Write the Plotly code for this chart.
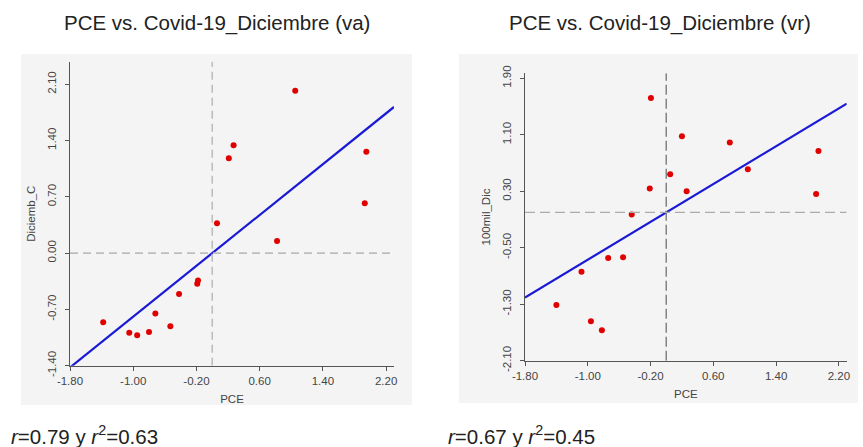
import plotly.graph_objects as go

W, H = 863, 447

# ---------------- data ----------------
pce_va = [-1.38, -1.05, -0.95, -0.80, -0.72, -0.53, -0.42, -0.19, -0.18,
          0.06, 0.21, 0.27, 0.82, 1.05, 1.93, 1.95]
dic_va = [-0.86, -0.99, -1.02, -0.98, -0.75, -0.91, -0.51, -0.38, -0.34,
          0.37, 1.18, 1.34, 0.15, 2.02, 0.62, 1.26]

pce_vr = [-1.40, -1.08, -0.96, -0.82, -0.74, -0.55, -0.44, -0.21, -0.195,
          0.05, 0.20, 0.26, 0.81, 1.04, 1.91, 1.94]
dic_vr = [-1.31, -0.84, -1.54, -1.67, -0.645, -0.635, -0.03, 0.34, 1.62,
          0.54, 1.08, 0.30, 0.99, 0.61, 0.26, 0.87]

r_va, r2_va = 0.79, 0.63
r_vr, r2_vr = 0.67, 0.45

x_ticks = [-1.80, -1.00, -0.20, 0.60, 1.40, 2.20]
y_ticks_va = [-1.40, -0.70, 0.00, 0.70, 1.40, 2.10]
y_ticks_vr = [-2.10, -1.30, -0.50, 0.30, 1.10, 1.90]

x_range = [-1.80, 2.30]
y_range_va = [-1.40, 2.38]
y_range_vr = [-2.10, 1.97]

titles = ["PCE vs. Covid-19_Diciembre (va)", "PCE vs. Covid-19_Diciembre (vr)"]
y_titles = ["Diciemb_C", "100mil_Dic"]
x_title = "PCE"

# ---------------- figure ----------------
RED = "#e00000"
BLUE = "#1a1ad6"
AXC = "#555555"
PANEL = "#f4f4f4"

fig = go.Figure()

def add_panel(xs, ys, r, xa, ya):
    fig.add_trace(go.Scatter(
        x=xs, y=ys, mode="markers", xaxis=xa, yaxis=ya,
        marker=dict(color=RED, size=6, line=dict(width=0)),
        showlegend=False, hoverinfo="x+y"))
    # regression line of standardized variables: y = r * x
    lx = x_range
    fig.add_trace(go.Scatter(
        x=lx, y=[r * v for v in lx], mode="lines", xaxis=xa, yaxis=ya,
        line=dict(color=BLUE, width=2.2), showlegend=False, hoverinfo="skip"))

add_panel(pce_va, dic_va, r_va, "x", "y")
add_panel(pce_vr, dic_vr, r_vr, "x2", "y2")

def px(v):
    return v / W

def py(v):
    return 1 - v / H

axis_font = dict(family="Liberation Sans, Arial, sans-serif", size=11.5, color="#444444")

common_x = dict(range=x_range, tickvals=x_ticks, ticktext=[f"{v:.2f}" for v in x_ticks],
                showgrid=False, zeroline=False, showline=True, linecolor=AXC,
                linewidth=1.2, ticks="outside", ticklen=4, tickcolor=AXC,
                tickfont=axis_font, fixedrange=True, automargin=False)
common_y = dict(showgrid=False, zeroline=False, showline=True, linecolor=AXC,
                linewidth=1.2, ticks="outside", ticklen=4, tickcolor=AXC,
                tickfont=axis_font, tickangle=-90, fixedrange=True, automargin=False,
                ticklabelstandoff=4)

fig.update_layout(
    width=W, height=H,
    margin=dict(l=0, r=0, t=0, b=0, pad=0, autoexpand=False),
    paper_bgcolor="white", plot_bgcolor=PANEL,
    xaxis=dict(domain=[px(70), px(394)], anchor="y",
               title=dict(text=x_title, font=axis_font, standoff=9), **common_x),
    yaxis=dict(domain=[py(365.7), py(61.7)], anchor="x", range=y_range_va,
               tickvals=y_ticks_va, ticktext=[f"{v:.2f}" for v in y_ticks_va],
               title=dict(text=y_titles[0], font=axis_font, standoff=8), **common_y),
    xaxis2=dict(domain=[px(525), px(846.7)], anchor="y2",
                title=dict(text=x_title, font=axis_font, standoff=9), **common_x),
    yaxis2=dict(domain=[py(360.7), py(73.3)], anchor="x2", range=y_range_vr,
                tickvals=y_ticks_vr, ticktext=[f"{v:.2f}" for v in y_ticks_vr],
                title=dict(text=y_titles[1], font=axis_font, standoff=8), **common_y),
)

# grey panel backgrounds
fig.add_shape(type="rect", xref="paper", yref="paper", layer="below",
              x0=px(21), x1=px(412), y0=py(405), y1=py(54),
              fillcolor=PANEL, line=dict(width=0))
fig.add_shape(type="rect", xref="paper", yref="paper", layer="below",
              x0=px(459), x1=px(858), y0=py(403), y1=py(54),
              fillcolor=PANEL, line=dict(width=0))

# mean reference lines (dashed)
fig.add_shape(type="line", xref="x", yref="y", x0=0, x1=0, y0=y_range_va[0], y1=y_range_va[1],
              line=dict(color="#bdbdbd", width=1.6, dash="8px,5px"))
fig.add_shape(type="line", xref="x", yref="y", x0=x_range[0], x1=x_range[1], y0=0, y1=0,
              line=dict(color="#bdbdbd", width=1.6, dash="8px,5px"))
fig.add_shape(type="line", xref="x2", yref="y2", x0=0, x1=0, y0=y_range_vr[0], y1=y_range_vr[1],
              line=dict(color="#7a7a7a", width=1.4, dash="10px,4px"))
fig.add_shape(type="line", xref="x2", yref="y2", x0=x_range[0], x1=x_range[1], y0=0, y1=0,
              line=dict(color="#ababab", width=1.4, dash="10px,5px"))

title_font = dict(family="Liberation Sans, Arial, sans-serif", size=20.5, color="#222222")
fig.add_annotation(text=titles[0], xref="paper", yref="paper", x=px(217), y=py(23),
                   showarrow=False, font=title_font, xanchor="center", yanchor="middle")
fig.add_annotation(text=titles[1], xref="paper", yref="paper", x=px(660), y=py(23),
                   showarrow=False, font=title_font, xanchor="center", yanchor="middle")

stat_font = dict(family="Liberation Sans, Arial, sans-serif", size=20.5, color="#222222")
fig.add_annotation(text=f"<i>r</i>={r_va:.2f} y <i>r</i><sup>2</sup>={r2_va:.2f}",
                   xref="paper", yref="paper", x=px(9), y=py(435),
                   showarrow=False, font=stat_font, xanchor="left", yanchor="middle")
fig.add_annotation(text=f"<i>r</i>={r_vr:.2f} y <i>r</i><sup>2</sup>={r2_vr:.2f}",
                   xref="paper", yref="paper", x=px(446), y=py(435),
                   showarrow=False, font=stat_font, xanchor="left", yanchor="middle")

fig.write_html("out.html", config={"displayModeBar": False},
               post_script="document.body.style.margin='0';document.body.style.overflow='hidden';")
